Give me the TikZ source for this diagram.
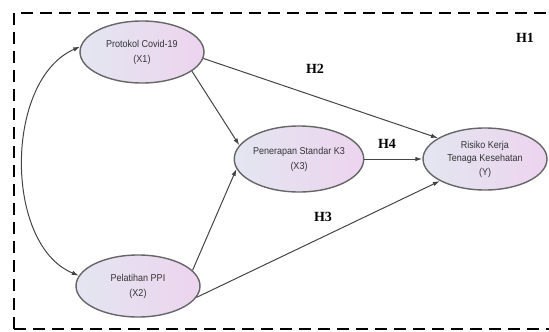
\documentclass[tikz,border=0pt]{standalone}
\usepackage{fontspec}
\newfontfamily\nodefont[FakeStretch=0.9]{Liberation Sans}
\newfontfamily\hfont{Liberation Serif}
\usetikzlibrary{shapes.geometric,arrows.meta}
\definecolor{ellleft}{HTML}{E3E6F0}
\definecolor{ellright}{HTML}{EDD4EF}
\definecolor{ellline}{HTML}{666666}
\definecolor{arrline}{HTML}{444444}
\tikzset{
  var/.style={ellipse, draw=ellline, line width=1.4pt, left color=ellleft, right color=ellright,
    minimum width=124pt, minimum height=62pt, inner sep=0pt, align=center,
    font=\nodefont\fontsize{10}{15}\selectfont, text=black!80},
  path/.style={draw=arrline, line width=1pt, -{Latex[length=7pt,width=4.5pt]}},
  hyp/.style={font=\hfont\bfseries\fontsize{14}{15}\selectfont, inner sep=0pt}
}
\begin{document}
\begin{tikzpicture}[x=1pt,y=-1pt]
\useasboundingbox (0,0) rectangle (549,332);
\draw[line width=2.5pt, dash pattern=on 12pt off 7pt] (14,329) -- (14,13) -- (580,13);
\draw[line width=2.5pt, dash pattern=on 12pt off 7pt] (14,329) -- (580,329);
\node[var] (x1) at (142,52) {Protokol Covid-19\\(X1)};
\node[var] (x2) at (138,286) {Pelatihan PPI\\(X2)};
\node[var, minimum width=126pt, minimum height=66pt] (x3) at (299,159) {Penerapan Standar K3\\(X3)};
\node[var, font=\nodefont\fontsize{10}{13.5}\selectfont] (y) at (485,159) {Risiko Kerja\\Tenaga Kesehatan\\(Y)};
\draw[path] (x1.-6) -- (y.156);
\draw[path] (x1.-21) -- (x3.167);
\draw[path] (x2.16) -- (x3.-171);
\draw[path] (x2.-11) -- (y.-154);
\draw[path] (x3) -- (y);
\draw[draw=arrline, line width=1pt, {Latex[length=7pt,width=4.5pt]}-{Latex[length=7pt,width=4.5pt]}]
  (x1.175) .. controls (4,80) and (4,245) .. (x2.170);
\node[hyp] (h1) at (525,38) {H1};
\node[hyp] (h2) at (315,69) {H2};
\node[hyp] (h4) at (387,144) {H4};
\node[hyp] (h3) at (323,217) {H3};
\end{tikzpicture}
\end{document}
